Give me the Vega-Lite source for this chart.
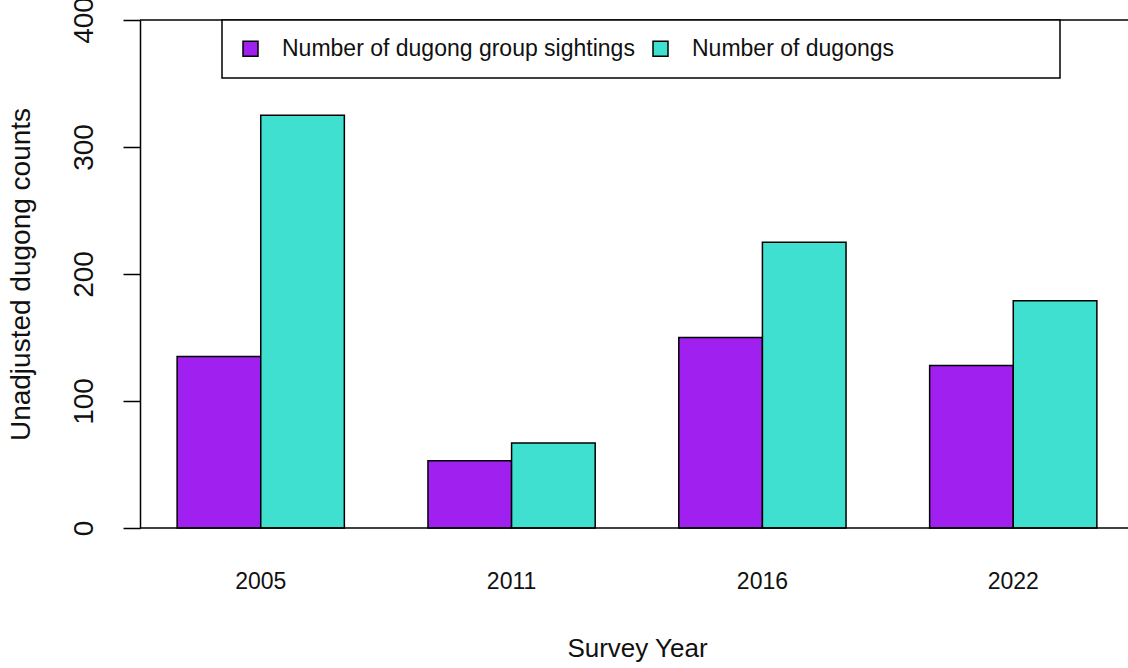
{
  "$schema": "https://vega.github.io/schema/vega-lite/v6.json",
  "width": 988,
  "height": 508,
  "autosize": {"type": "none"},
  "padding": {"left": 140, "top": 20, "right": 0, "bottom": 140},
  "background": "white",
  "config": {"view": {"stroke": null}, "axis": {"grid": false}, "font": "Liberation Sans"},
  "data": {
    "values": [
      {"year": "2005", "series": "Number of dugong group sightings", "count": 135},
      {"year": "2005", "series": "Number of dugongs", "count": 325},
      {"year": "2011", "series": "Number of dugong group sightings", "count": 53},
      {"year": "2011", "series": "Number of dugongs", "count": 67},
      {"year": "2016", "series": "Number of dugong group sightings", "count": 150},
      {"year": "2016", "series": "Number of dugongs", "count": 225},
      {"year": "2022", "series": "Number of dugong group sightings", "count": 128},
      {"year": "2022", "series": "Number of dugongs", "count": 179}
    ]
  },
  "layer": [
    {
      "mark": {"type": "bar", "stroke": "black", "strokeWidth": 1.5},
      "encoding": {
        "x": {
          "field": "year",
          "type": "nominal",
          "title": "Survey Year",
          "scale": {"range": [0, 994], "paddingInner": 0.3333, "paddingOuter": 0.148},
          "axis": {
            "domain": false,
            "ticks": false,
            "labelAngle": 0,
            "labelFont": "Liberation Sans",
            "labelFontSize": 23,
            "labelColor": "#111111",
            "labelPadding": 42,
            "titleFont": "Liberation Sans",
            "titleFontSize": 26,
            "titleFontWeight": "normal",
            "titleColor": "#111111",
            "titlePadding": 42
          }
        },
        "xOffset": {
          "field": "series",
          "type": "nominal",
          "sort": ["Number of dugong group sightings", "Number of dugongs"],
          "scale": {"paddingInner": 0, "paddingOuter": 0}
        },
        "y": {
          "field": "count",
          "type": "quantitative",
          "title": "Unadjusted dugong counts",
          "scale": {"domain": [0, 400], "nice": false},
          "axis": {
            "values": [0, 100, 200, 300, 400],
            "domainColor": "black",
            "domainWidth": 1.5,
            "tickColor": "black",
            "tickWidth": 1.5,
            "tickSize": 17,
            "labelAngle": 270,
            "labelAlign": "center",
            "labelBaseline": "alphabetic",
            "labelPadding": 31,
            "labelFont": "Liberation Sans",
            "labelFontSize": 28,
            "labelColor": "#111111",
            "labelOverlap": false,
            "labelFlush": false,
            "titleFont": "Liberation Sans",
            "titleFontSize": 28,
            "titleFontWeight": "normal",
            "titleColor": "#111111",
            "titlePadding": 35
          }
        },
        "color": {
          "field": "series",
          "type": "nominal",
          "sort": ["Number of dugong group sightings", "Number of dugongs"],
          "scale": {"domain": ["Number of dugong group sightings", "Number of dugongs"], "range": ["#A020F0", "#40E0D0"]},
          "legend": {
            "orient": "none",
            "legendX": 82,
            "legendY": 0,
            "direction": "horizontal",
            "columns": 2,
            "gridAlign": "each",
            "title": null,
            "symbolType": "square",
            "symbolSize": 225,
            "symbolStrokeColor": "black",
            "symbolStrokeWidth": 1.5,
            "symbolOpacity": 1,
            "labelFont": "Liberation Sans",
            "labelFontSize": 23,
            "labelColor": "#111111",
            "labelOffset": 20,
            "labelLimit": 0,
            "labelExpr": "length(datum.label) < 20 ? datum.label + '\u2007\u2800\u2800\u2800\u2800\u2800\u2800\u2800\u2800' : datum.label",
            "columnPadding": 14,
            "padding": 17,
            "strokeColor": "black",
            "fillColor": "white",
            "encode": {"legend": {"update": {"strokeWidth": {"value": 1.5}}}}
          }
        }
      }
    },
    {
      "data": {"values": [{"level": 0}, {"level": 400}]},
      "mark": {"type": "rule", "color": "black", "strokeWidth": 1.5},
      "encoding": {"y": {"field": "level", "type": "quantitative"}}
    }
  ]
}
